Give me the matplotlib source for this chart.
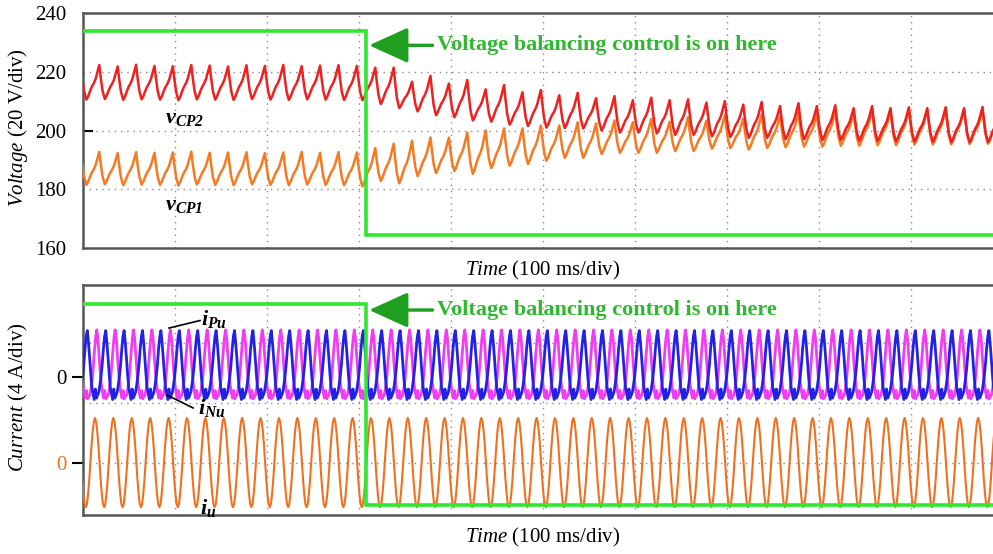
import numpy as np
import matplotlib
matplotlib.use("Agg")
import matplotlib.pyplot as plt

plt.rcParams['font.family'] = ['Liberation Serif', 'DejaVu Serif']
plt.rcParams['mathtext.fontset'] = 'custom'
plt.rcParams['mathtext.rm'] = 'Liberation Serif'
plt.rcParams['mathtext.it'] = 'Liberation Serif:italic'
plt.rcParams['mathtext.bf'] = 'Liberation Serif:bold:italic'

period_ms = 20.0          # 50 Hz ripple
first_peak_ms = -2.3      # capacitor voltage peaks at -2.3 + 20k ms
step_ms = 307.6           # balancing control switched on

# per-cycle peak and following trough of the capacitor voltages (V)
vcp2_peak = [222.0, 222.3, 221.8, 222.4, 222.0, 221.9, 222.3, 222.1, 221.8, 222.2,
             222.0, 222.3, 221.9, 222.1, 222.2, 222.0,
             221.4, 221.4, 216.6, 218.6, 216.0, 217.2, 214.0, 215.5, 213.0, 213.8,
             212.0, 212.8, 211.0, 211.7, 210.3, 211.2, 210.3, 210.6, 209.5, 210.0,
             208.8, 209.7, 208.3, 209.3, 208.3, 208.6, 207.6, 208.3, 207.6, 207.9,
             207.6, 207.9, 207.6, 208.0, 207.5]
vcp2_trough = [210.5, 210.7, 210.4, 210.6, 210.5, 210.3, 210.6, 210.5, 210.4, 210.7,
               210.5, 210.4, 210.6, 210.5, 210.4, 210.3,
               209.0, 207.6, 206.5, 205.2, 204.5, 203.4, 203.0, 202.0, 201.5, 201.0,
               200.8, 200.7, 200.0, 199.3, 199.3, 199.0, 198.5, 198.5, 198.0, 197.8,
               197.5, 197.5, 197.0, 197.0, 196.8, 196.8, 196.5, 196.5, 196.3, 196.3,
               196.2, 196.0, 196.0, 196.0, 195.8]
vcp1_peak = [192.5, 192.7, 192.3, 192.6, 192.4, 192.5, 192.8, 192.4, 192.5, 192.6,
             192.3, 192.5, 192.7, 192.4, 192.6, 192.5,
             194.0, 195.5, 196.5, 197.6, 197.6, 199.3, 200.0, 200.7, 200.7, 201.7,
             201.7, 202.8, 202.4, 203.4, 202.8, 204.0, 203.0, 204.5, 203.4, 205.2,
             204.0, 205.5, 205.0, 206.0, 205.5, 206.5, 206.0, 206.8, 206.5, 207.0,
             206.8, 207.0, 207.2, 207.0, 207.3]
vcp1_trough = [181.5, 181.7, 181.4, 181.6, 181.5, 181.3, 181.6, 181.5, 181.4, 181.7,
               181.5, 181.4, 181.6, 181.5, 181.4, 181.0,
               182.8, 182.0, 184.5, 185.5, 186.2, 185.2, 187.2, 188.0, 188.6, 189.7,
               190.7, 190.7, 192.0, 192.4, 192.4, 192.4, 193.0, 193.0, 193.8, 194.0,
               193.5, 194.0, 194.3, 194.5, 194.5, 194.8, 194.8, 195.0, 195.0, 195.2,
               195.2, 195.3, 195.4, 195.5, 195.5]

# ripple shape inside one cycle (fraction of peak-trough swing)
fall_ms = [0.0, 1.5, 3.5, 6.0]
fall_frac = [1.0, 0.65, 0.25, 0.0]
rise_ms = [8.0, 10.0, 12.0, 14.0, 16.0, 17.5, 19.0]
rise_frac = [0.1, 0.25, 0.38, 0.47, 0.6, 0.75, 0.9]

# green trigger/flag trace
flag_v = [233.8, 164.5]      # top panel (V)
flag_i = [10.6, -2.8]        # bottom panel (A)

# currents, one cycle each (A), repeated over the record
iu_cycle = [0.0, 1.15, 2.1, 2.75, 3.0, 2.75, 2.1, 1.15,
            0.0, -1.15, -2.1, -2.75, -2.95, -2.75, -2.1, -1.15]
iu_start_ms = -12.0
ipu_cycle = [-1.2, -0.8, -0.2, 0.7, 1.7, 2.6, 3.15, 2.6, 1.5, 0.4, -0.5, -1.0,
             -1.4, -0.9, -1.45, -1.3]
ipu_start_ms = -12.6
inu_cycle = [-1.0, -0.5, 0.1, 0.9, 1.9, 2.7, 3.1, 2.3, 1.3, 0.2, -0.7, -1.1,
             -1.5, -0.8, -1.4, -1.2]
inu_start_ms = -22.8
arm_zero = 5.73              # screen offset of the arm-current channel (A)
n_cycles = 52


def ripple(peaks, troughs):
    t, v = [], []
    for k, p in enumerate(peaks):
        tp = first_peak_ms + k * period_ms
        tr = troughs[k]
        nxt = peaks[k + 1] if k + 1 < len(peaks) else p
        for ph, f in zip(fall_ms, fall_frac):
            t.append(tp + ph)
            v.append(tr + (p - tr) * f)
        for ph, f in zip(rise_ms, rise_frac):
            t.append(tp + ph)
            v.append(tr + (nxt - tr) * f)
    return np.array(t), np.array(v)


def repeat(cycle, start):
    vals = np.tile(cycle, n_cycles)
    t = start + np.arange(len(vals)) * period_ms / len(cycle)
    return t, vals


W, H = 993, 554
fig = plt.figure(figsize=(W / 100, H / 100), dpi=100)
ax1 = fig.add_axes([83 / W, (H - 248) / H, 920 / W, 235 / H])
ax2 = fig.add_axes([83 / W, (H - 515) / H, 920 / W, 230 / H])

frame = '#555555'
dots = dict(color='#8a8a8a', linestyle=(0, (1, 3.5)), linewidth=1.0)
green = '#2fe82f'
txt_green = '#2fb82f'
arr_green = '#1f9f1f'

for ax, pad in ((ax1, 8), (ax2, 8)):
    ax.set_xlim(0, 1000)
    ax.set_xticks(np.arange(100, 1000, 100))
    ax.tick_params(axis='x', length=0, labelbottom=False)
    for s in ax.spines.values():
        s.set_color(frame)
        s.set_linewidth(1.8)
    for x in range(100, 1000, 100):
        ax.axvline(x, zorder=0, **dots)
    ax.set_xlabel(r'$\mathit{Time}$ (100 ms/div)', fontsize=15, labelpad=pad)

# ---- top panel: capacitor voltages ----
ax1.set_ylim(160, 240)
for y in (180, 200, 220):
    ax1.axhline(y, zorder=0, **dots)
t2, v2 = ripple(vcp2_peak, vcp2_trough)
t1, v1 = ripple(vcp1_peak, vcp1_trough)
ax1.plot(t1, v1, color='#f57a22', lw=1.8, zorder=3)
ax1.plot(t2, v2, color='#ee2020', lw=1.8, zorder=4)
ax1.plot([0, step_ms, step_ms, 1000], [flag_v[0], flag_v[0], flag_v[1], flag_v[1]],
         color=green, lw=2.6, zorder=5, solid_joinstyle='miter')
ax1.set_yticks([160, 180, 200, 220, 240])
ax1.set_yticklabels(['160', '180', '200', '220', '240'], fontsize=15)
ax1.tick_params(axis='y', direction='in', length=7, width=1.5, pad=12)
for tk, val in zip(ax1.yaxis.get_major_ticks(), [160, 180, 200, 220, 240]):
    if val != 200:
        tk.tick1line.set_visible(False)
fig.text(18 / W, (H - 128) / H, r'$\mathit{Voltage}$ (20 V/div)', fontsize=15,
         rotation=90, ha='center', va='center')

ax1.text(89, 202.6, r'$\mathbf{v}_{\mathbf{CP2}}$', fontsize=16, va='baseline')
ax1.text(89, 172.8, r'$\mathbf{v}_{\mathbf{CP1}}$', fontsize=16, va='baseline')

# ---- bottom panel: arm and output currents ----
ax2.set_ylim(-3.47, 11.87)
for y in (0, 4, 8):
    ax2.axhline(y, zorder=0, **dots)
tp, ip = repeat(ipu_cycle, ipu_start_ms)
tn, inn = repeat(inu_cycle, inu_start_ms)
tu, iu = repeat(iu_cycle, iu_start_ms)
ax2.plot(tp, ip + arm_zero, color='#f23cf2', lw=2.0, zorder=3)
ax2.plot(tn, inn + arm_zero, color='#2222e6', lw=2.0, zorder=4)
ax2.plot(tu, iu, color='#f07020', lw=1.5, zorder=3)
ax2.plot([0, step_ms, step_ms, 1000], [flag_i[0], flag_i[0], flag_i[1], flag_i[1]],
         color=green, lw=2.6, zorder=5, solid_joinstyle='miter')
ax2.set_yticks([0, arm_zero])
ax2.set_yticklabels(['0', '0'], fontsize=15)
ax2.tick_params(axis='y', direction='out', length=8, width=1.5, pad=4)
ticks = ax2.yaxis.get_major_ticks()
ticks[0].tick1line.set_color('#f07020')
ticks[0].label1.set_color('#f07020')
ticks[1].tick1line.set_color('#f23cf2')
fig.text(18 / W, (H - 397) / H, r'$\mathit{Current}$ (4 A/div)', fontsize=15,
         rotation=90, ha='center', va='center')

ax2.plot([127.2, 93.5], [9.5, 9.0], color='black', lw=1.2, zorder=6)
ax2.text(128, 9.2, r'$\mathbf{i}_{\mathbf{Pu}}$', fontsize=16, va='baseline', zorder=6)
ax2.plot([91.3, 119.6], [4.53, 3.67], color='black', lw=1.2, zorder=6)
ax2.text(125, 3.27, r'$\mathbf{i}_{\mathbf{Nu}}$', fontsize=16, va='baseline', zorder=6)
ax2.text(127, -3.4, r'$\mathbf{i}_{\mathbf{u}}$', fontsize=16, va='baseline',
         zorder=6, clip_on=False)

# ---- "control on" markers ----
for ax, y in ((ax1, 229.0), (ax2, 10.2)):
    ax.annotate('', xy=(311, y), xytext=(380, y),
                arrowprops=dict(arrowstyle='-|>,head_length=1.1,head_width=0.5',
                                color=arr_green, lw=2.4, mutation_scale=22,
                                shrinkA=0, shrinkB=0), zorder=7)
    ax.text(385, y, 'Voltage balancing control is on here', color=txt_green,
            fontsize=16, fontweight='bold', va='center', zorder=7)

fig.savefig('out.png', dpi=100)
